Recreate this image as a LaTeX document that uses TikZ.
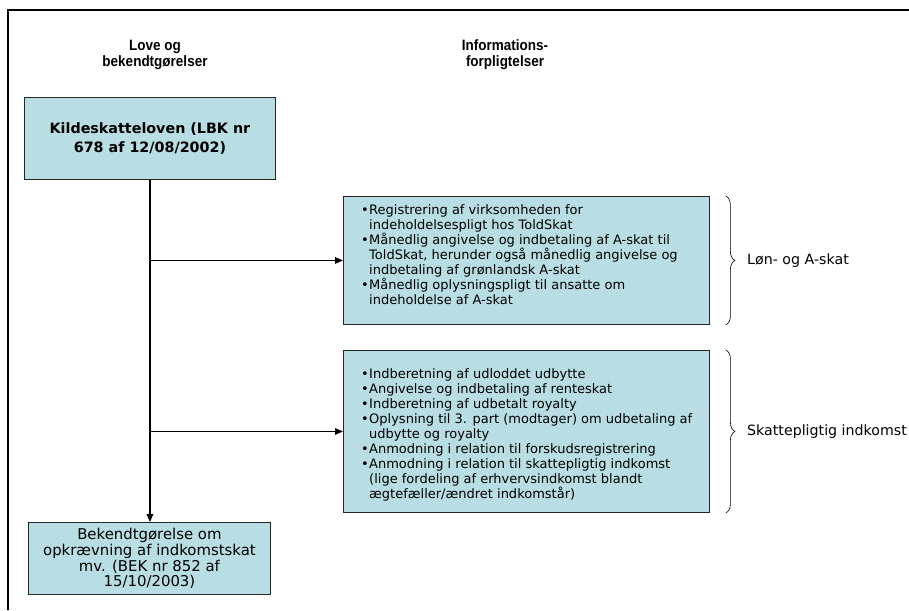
\documentclass[tikz,border=0pt]{standalone}
\usepackage{fontspec}
\setmainfont{DejaVu Sans}
\newfontfamily\hfont[FakeStretch=0.9]{Liberation Sans}
\usetikzlibrary{arrows.meta,decorations.pathreplacing}
\definecolor{boxfill}{HTML}{B8DEE3}
\newcommand\bulx{\makebox[8pt][l]{•}}
\newcommand\indx{\hspace*{8pt}}
\begin{document}
\begin{tikzpicture}[x=1pt,y=-1pt,
  box/.style={draw=black!85, line width=0.9pt, fill=boxfill, inner sep=0pt},
  conn/.style={line width=1.4pt, -{Triangle[length=8pt,width=6.5pt]}},
  brc/.style={decorate, decoration={brace, amplitude=9pt}, line width=0.6pt},
  hdr/.style={font=\hfont\bfseries\fontsize{15}{16}\selectfont, align=center},
  lst/.style={font=\fontsize{13}{15}\selectfont, align=left, inner sep=0pt, anchor=north west},
  lbl/.style={font=\fontsize{14.2}{16}\selectfont, anchor=west, inner sep=0pt}]
\useasboundingbox (0,0) rectangle (909,610);
\draw[line width=2pt] (8,610) -- (8,10) -- (909,10);

\node[hdr] (h1) at (155,55) {Love og\\bekendtgørelser};
\node[hdr] (h2) at (505,55) {Informations-\\forpligtelser};

\node[box, minimum width=251pt, minimum height=82pt, anchor=north west,
      font=\bfseries\fontsize{14.3}{19}\selectfont, align=center] (law) at (24,97)
  {Kildeskatteloven (LBK nr\\678 af 12/08/2002)};

\node[box, minimum width=366pt, minimum height=128pt, anchor=north west] (b1) at (343,196) {};
\node[lst] (t1) at (361,204) {\bulx Registrering af virksomheden for\\
\indx indeholdelsespligt hos ToldSkat\\
\bulx Månedlig angivelse og indbetaling af A-skat til\\
\indx ToldSkat, herunder også månedlig angivelse og\\
\indx indbetaling af grønlandsk A-skat\\
\bulx Månedlig oplysningspligt til ansatte om\\
\indx indeholdelse af A-skat};

\node[box, minimum width=366pt, minimum height=162pt, anchor=north west] (b2) at (343,350) {};
\node[lst] (t2) at (361,368.5) {\bulx Indberetning af udloddet udbytte\\
\bulx Angivelse og indbetaling af renteskat\\
\bulx Indberetning af udbetalt royalty\\
\bulx Oplysning til 3. part (modtager) om udbetaling af\\
\indx udbytte og royalty\\
\bulx Anmodning i relation til forskudsregistrering\\
\bulx Anmodning i relation til skattepligtig indkomst\\
\indx (lige fordeling af erhvervsindkomst blandt\\
\indx ægtefæller/ændret indkomstår)};

\node[box, minimum width=242pt, minimum height=72pt, anchor=north west, align=center,
      font=\fontsize{14.9}{15.8}\selectfont] (bek) at (28,522)
  {Bekendtgørelse om\\opkrævning af indkomstskat\\mv. (BEK nr 852 af\\15/10/2003)};

\draw[conn] (law.south) -- (law.south |- bek.north);
\draw[conn] (law.south |- b1.west) -- (b1.west);
\draw[conn] (law.south |- b2.west) -- (b2.west);

\coordinate (br1a) at ([xshift=16pt]b1.north east);
\coordinate (br1b) at ([xshift=16pt]b1.south east);
\coordinate (br2a) at ([xshift=16pt]b2.north east);
\coordinate (br2b) at ([xshift=16pt]b2.south east);
\draw[brc] (br1a) -- (br1b);
\draw[brc] (br2a) -- (br2b);

\node[lbl] (l1) at (747,261) {Løn- og A-skat};
\node[lbl] (l2) at (747,432) {Skattepligtig indkomst};
\end{tikzpicture}
\end{document}
